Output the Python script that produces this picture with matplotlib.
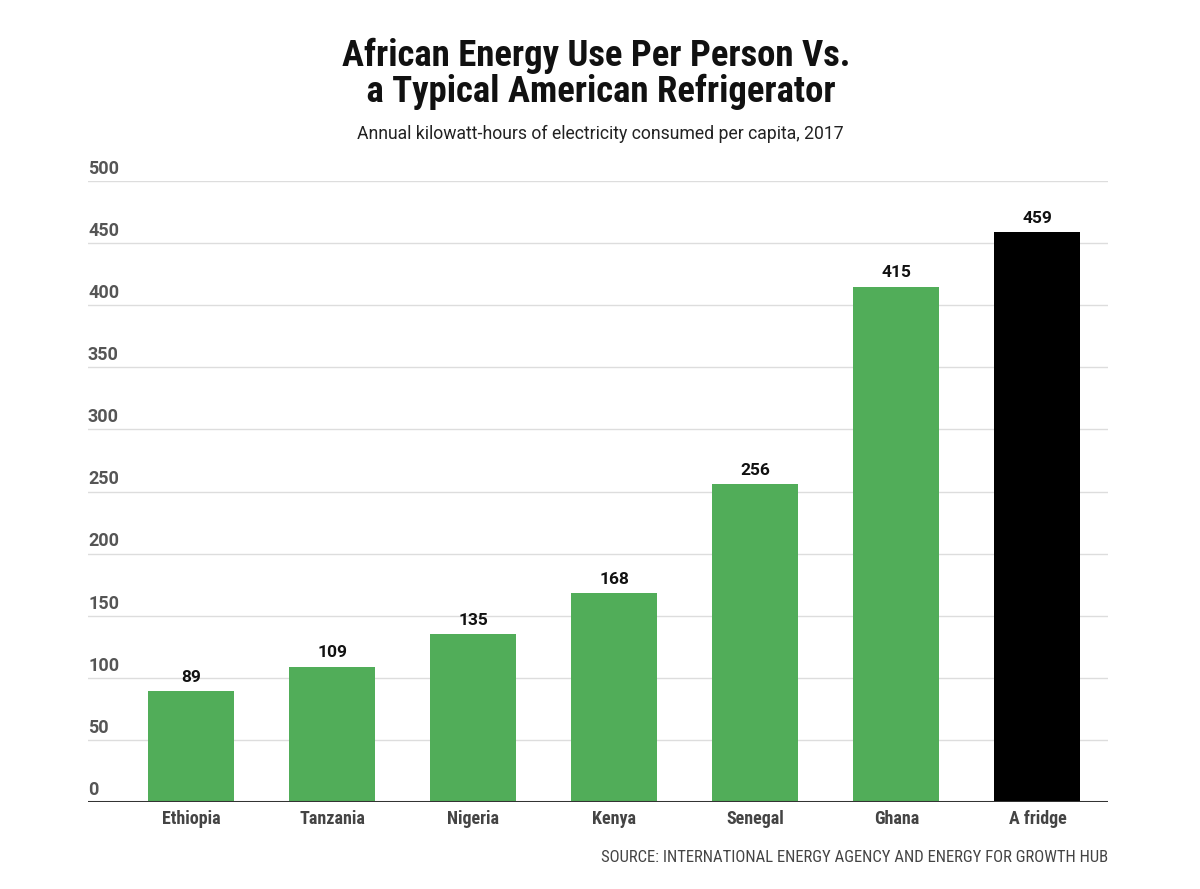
import matplotlib.pyplot as plt
from matplotlib import font_manager

countries = ["Ethiopia", "Tanzania", "Nigeria", "Kenya", "Senegal", "Ghana", "A fridge"]
kwh = [89, 109, 135, 168, 256, 415, 459]
bar_colors = ["#51ad59"] * 6 + ["#000000"]
yticks = [0, 50, 100, 150, 200, 250, 300, 350, 400, 450, 500]

names = {f.name for f in font_manager.fontManager.ttflist}
narrow = "Roboto"
for cand in ["Roboto Condensed", "Liberation Sans Narrow", "DejaVu Sans Condensed", "Open Sans Condensed"]:
    if cand in names:
        narrow = cand
        break
is_narrow = narrow != "Roboto"
plt.rcParams['font.family'] = ['Roboto', 'DejaVu Sans']

fig = plt.figure(figsize=(12, 8.89), dpi=100)
ax = fig.add_axes([88 / 1200, 1 - 802 / 889, 1020 / 1200, 621 / 889])

x = range(len(countries))
ax.bar(x, kwh, width=0.61, color=bar_colors, zorder=3)

# value labels on top of bars
for i, v in enumerate(kwh):
    ax.text(i, v + 5, str(v), ha="center", va="bottom", fontsize=12.5,
            fontweight="bold", color="#111111")

ax.set_xlim(-0.73, 6.50)
ax.set_ylim(0, 500)

for t in yticks:
    if t > 0:
        ax.axhline(t, color="#dddddd", linewidth=1, zorder=1)
    ax.text(0, t + 2.5, str(t), transform=ax.get_yaxis_transform(), ha="left",
            va="bottom", fontsize=13, fontweight="bold", color="#555555")

ax.axhline(0, color="#333333", linewidth=2.2, zorder=4)

for s in ax.spines.values():
    s.set_visible(False)
ax.set_yticks([])
ax.set_xticks(list(x))
ax.set_xticklabels(countries, fontsize=12.5 if not is_narrow else 13, fontweight="bold",
                   color="#444444", family=[narrow, 'DejaVu Sans'])
ax.tick_params(axis="x", length=0, pad=6)

fig.text(0.497, 1 - 38 / 889, "African Energy Use Per Person Vs.\n a Typical American Refrigerator",
         ha="center", va="top", fontsize=23 if not is_narrow else 26.5, fontweight="bold",
         color="#111111", family=[narrow, 'DejaVu Sans'], linespacing=0.97)
fig.text(0.5, 1 - 134 / 889, "Annual kilowatt-hours of electricity consumed per capita, 2017",
         ha="center", va="center", fontsize=12.7, color="#222222")
fig.text(1108 / 1200, 1 - 858 / 889, "SOURCE: INTERNATIONAL ENERGY AGENCY AND ENERGY FOR GROWTH HUB",
         ha="right", va="center", fontsize=11.2 if not is_narrow else 12, color="#444444",
         family=[narrow, 'DejaVu Sans'])

fig.savefig("out.png", dpi=100, facecolor="white")
